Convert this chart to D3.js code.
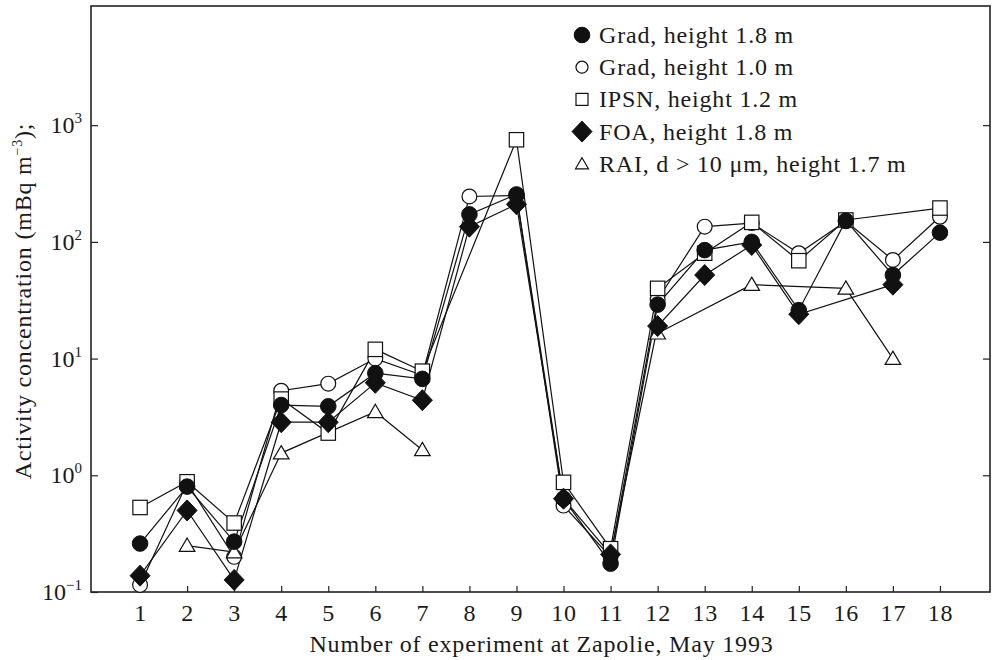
<!DOCTYPE html>
<html>
<head>
<meta charset="utf-8">
<script src="https://cdn.jsdelivr.net/npm/d3@7"></script>
<style>
  html, body { margin: 0; padding: 0; background: #fff; }
  svg text { font-family: "Liberation Serif", "DejaVu Serif", serif; fill: #1a1a1a; }
</style>
</head>
<body>
<svg id="chart" width="992" height="660"></svg>
<script>
// Experiment numbers along the x axis
const experiments = [1, 2, 3, 4, 5, 6, 7, 8, 9, 10, 11, 12, 13, 14, 15, 16, 17, 18];

// Activity concentration, mBq m^-3 (null = no measurement)
const gradHigh = [0.26, 0.80, 0.27, 4.0, 3.9, 7.5, 6.7, 172, 255, 0.63, 0.175, 29, 85, 100, 26, 152, 52, 120];
const gradLow  = [0.115, 0.86, 0.20, 5.3, 6.1, 10.0, 7.2, 245, 250, 0.55, 0.20, 32, 135, 145, 80, 150, 70, 164];
const ipsn     = [0.53, 0.88, 0.39, 4.5, 2.3, 12, 7.8, null, 750, 0.87, 0.235, 40, 80, 147, 69, 154, null, 195];
const foa      = [0.138, 0.50, 0.127, 2.85, 2.85, 6.2, 4.4, 135, 210, 0.63, 0.21, 19, 52, 94, 24, null, 43, null];
const rai      = [null, 0.25, 0.22, 1.55, null, 3.5, 1.65, null, null, null, null, 16.5, null, 43, null, 40, 10, null];
// RAI line is not continued past this experiment
const raiBreakAfter = [7];

// Axis ticks
const yTickValues = [0.1, 1, 10, 100, 1000];
const yTickLabels = ["10", "10", "10", "10", "10"];
const yTickExponents = ["\u22121", "0", "1", "2", "3"];

const legendLabels = [
  "Grad, height 1.8 m",
  "Grad, height 1.0 m",
  "IPSN, height 1.2 m",
  "FOA, height 1.8 m",
  "RAI, d > 10 \u03bcm, height 1.7 m"
];

const svg = d3.select("#chart");
const frame = { left: 91, right: 990, top: 6, bottom: 592 };
const fontSize = 24;
const spacing = 0.8;

const x = d3.scaleLinear().domain([0, 19]).range([93, 987]);
const y = d3.scaleLog().domain([0.1, 10500]).range([frame.bottom, frame.top]);

// Plot frame
svg.append("rect")
  .attr("x", frame.left).attr("y", frame.top)
  .attr("width", frame.right - frame.left).attr("height", frame.bottom - frame.top)
  .attr("fill", "none").attr("stroke", "#222").attr("stroke-width", 1.6);

// Bottom axis: inward ticks
const xAxis = d3.axisBottom(x).tickValues(experiments).tickSizeInner(-6).tickSizeOuter(0).tickPadding(12);
const gx = svg.append("g").attr("transform", `translate(0,${frame.bottom})`).call(xAxis);
gx.select(".domain").remove();
gx.selectAll(".tick line").attr("stroke", "#222").attr("stroke-width", 1.2);
gx.selectAll(".tick text").attr("font-size", fontSize).attr("font-family", "Liberation Serif")
  .attr("fill", "#1a1a1a").attr("letter-spacing", spacing);

// Left and right axes: inward ticks
const yLeft = svg.append("g").attr("transform", `translate(${frame.left},0)`)
  .call(d3.axisLeft(y).tickValues(yTickValues).tickSizeInner(-7).tickSizeOuter(0).tickFormat(() => ""));
yLeft.select(".domain").remove();
yLeft.selectAll(".tick line").attr("stroke", "#222").attr("stroke-width", 1.2);
yLeft.selectAll(".tick text").remove();

const yRight = svg.append("g").attr("transform", `translate(${frame.right},0)`)
  .call(d3.axisRight(y).tickValues(yTickValues.filter(v => v > 0.1)).tickSizeInner(-7).tickSizeOuter(0).tickFormat(() => ""));
yRight.select(".domain").remove();
yRight.selectAll(".tick line").attr("stroke", "#222").attr("stroke-width", 1.2);
yRight.selectAll(".tick text").remove();

// Power-of-ten labels
yTickValues.forEach((v, i) => {
  const t = svg.append("text")
    .attr("x", frame.left - 9)
    .attr("y", y(v) + 8)
    .attr("text-anchor", "end")
    .attr("font-size", fontSize);
  t.append("tspan").text(yTickLabels[i]);
  t.append("tspan").attr("dy", -10).attr("font-size", 15).text(yTickExponents[i]);
});

// Axis titles
svg.append("text")
  .attr("x", (frame.left + frame.right) / 2 + 1)
  .attr("y", 652)
  .attr("text-anchor", "middle")
  .attr("font-size", fontSize)
  .attr("letter-spacing", spacing)
  .text("Number of experiment at Zapolie, May 1993");

const yTitle = svg.append("text")
  .attr("transform", `translate(31,${(frame.top + frame.bottom) / 2 + 2}) rotate(-90)`)
  .attr("text-anchor", "middle")
  .attr("font-size", fontSize)
  .attr("letter-spacing", spacing);
yTitle.append("tspan").text("Activity concentration (mBq m");
yTitle.append("tspan").attr("dy", -9).attr("font-size", 14).text("\u22123");
yTitle.append("tspan").attr("dy", 9).text(");");

// Marker drawing helpers
const markerStyles = {
  filledCircle: (g) => g.append("circle").attr("r", 7.8).attr("fill", "#111").attr("stroke", "#111").attr("stroke-width", 1),
  openCircle: (g) => g.append("circle").attr("r", 7.4).attr("fill", "#fff").attr("stroke", "#111").attr("stroke-width", 1.2),
  square: (g) => g.append("rect").attr("x", -7.2).attr("y", -7.2).attr("width", 14.4).attr("height", 14.4)
                  .attr("fill", "#fff").attr("stroke", "#111").attr("stroke-width", 1.2),
  diamond: (g) => g.append("path").attr("d", "M0,-10.5L10,0L0,10.5L-10,0Z").attr("fill", "#111").attr("stroke", "#111").attr("stroke-width", 1),
  triangle: (g) => g.append("path").attr("d", "M0,-7.5L7.8,5.8L-7.8,5.8Z").attr("fill", "#fff").attr("stroke", "#111").attr("stroke-width", 1.2)
};

// Series in drawing order (later ones sit on top)
const series = [
  { name: legendLabels[1], values: gradLow, marker: "openCircle", breaks: [] },
  { name: legendLabels[2], values: ipsn, marker: "square", breaks: [] },
  { name: legendLabels[4], values: rai, marker: "triangle", breaks: raiBreakAfter },
  { name: legendLabels[3], values: foa, marker: "diamond", breaks: [] },
  { name: legendLabels[0], values: gradHigh, marker: "filledCircle", breaks: [] }
];

const line = d3.line().x(d => x(d.n)).y(d => y(d.v));

function segmentsOf(s) {
  const pts = experiments.map((n, i) => ({ n, v: s.values[i] })).filter(d => d.v != null);
  const segs = [];
  let cur = [];
  pts.forEach(p => {
    cur.push(p);
    if (s.breaks.includes(p.n)) { segs.push(cur); cur = []; }
  });
  if (cur.length) segs.push(cur);
  return segs;
}

const linesG = svg.append("g");
series.forEach(s => {
  segmentsOf(s).forEach(seg => {
    linesG.append("path").datum(seg).attr("d", line)
      .attr("fill", "none").attr("stroke", "#111").attr("stroke-width", 1.2);
  });
});

const marksG = svg.append("g");
series.forEach(s => {
  experiments.forEach((n, i) => {
    const v = s.values[i];
    if (v == null) return;
    const g = marksG.append("g").attr("transform", `translate(${x(n)},${y(v)})`);
    markerStyles[s.marker](g);
  });
});

// Legend
const legendOrder = [
  { label: legendLabels[0], marker: "filledCircle" },
  { label: legendLabels[1], marker: "openCircle" },
  { label: legendLabels[2], marker: "square" },
  { label: legendLabels[3], marker: "diamond" },
  { label: legendLabels[4], marker: "triangle" }
];
const legend = svg.append("g").attr("transform", "translate(582,35)");
legendOrder.forEach((item, i) => {
  const row = legend.append("g").attr("transform", `translate(0,${i * 32.2})`);
  const mg = row.append("g");
  markerStyles[item.marker](mg);
  if (item.marker === "openCircle") mg.select("circle").attr("r", 6);
  if (item.marker === "square") mg.select("rect").attr("x", -6).attr("y", -6).attr("width", 12).attr("height", 12);
  if (item.marker === "triangle") mg.select("path").attr("d", "M0,-6L6.5,5L-6.5,5Z");
  row.append("text").attr("x", 17).attr("y", 8).attr("font-size", fontSize)
    .attr("letter-spacing", spacing).text(item.label);
});
</script>
</body>
</html>
